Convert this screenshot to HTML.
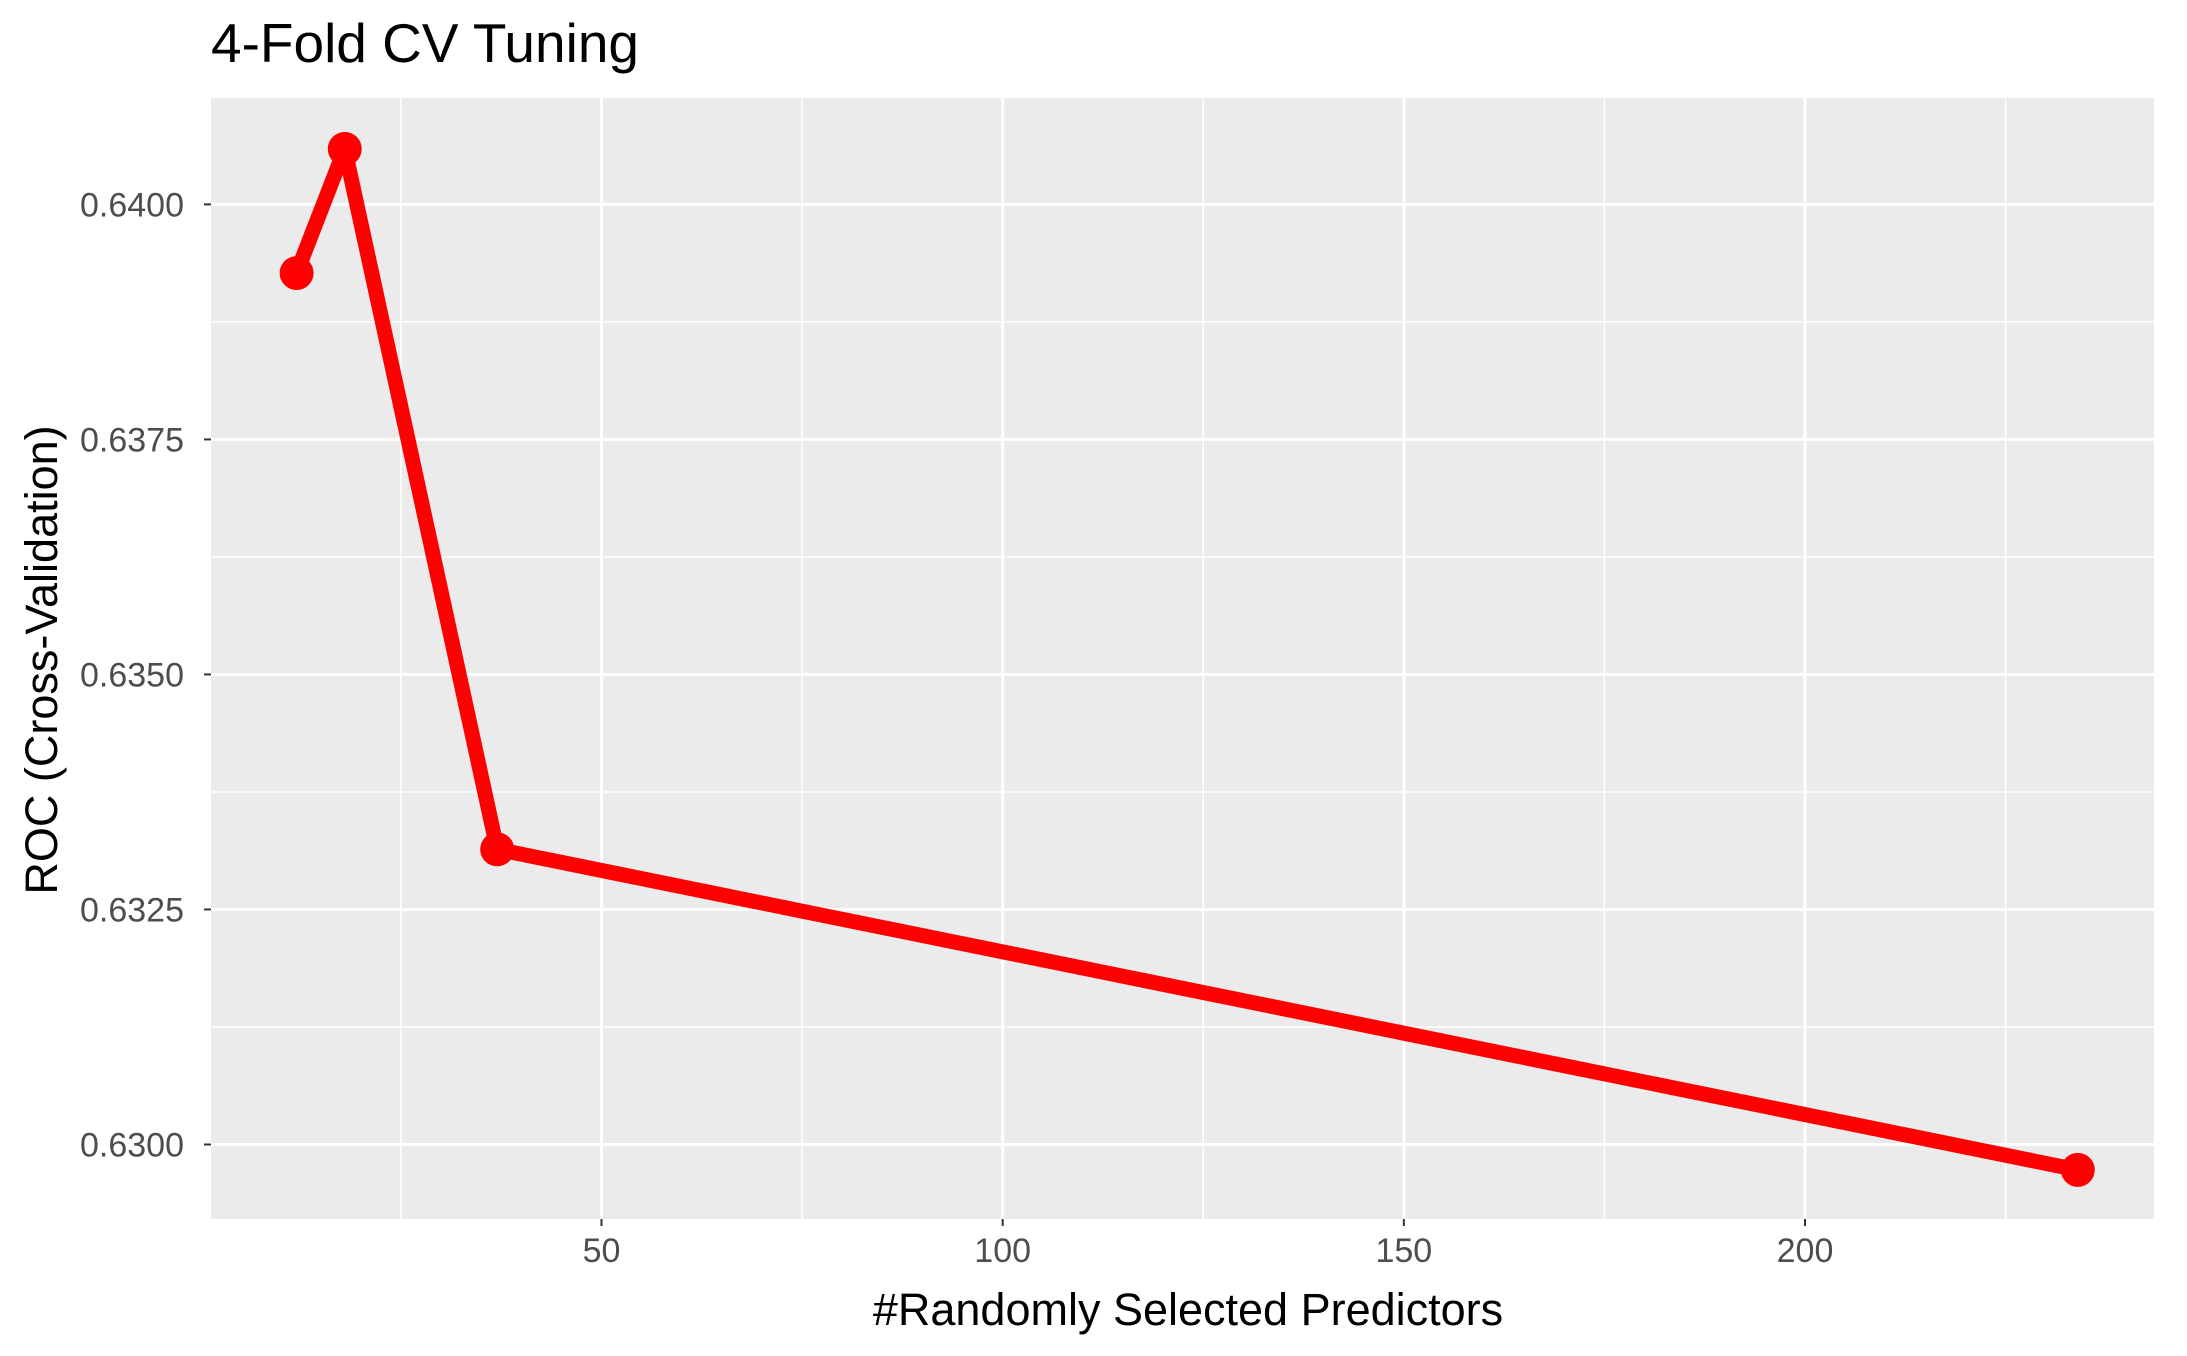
<!DOCTYPE html>
<html><head><meta charset="utf-8"><style>
html,body{margin:0;padding:0;background:#fff;}
svg text{font-family:"Liberation Sans",sans-serif;}
</style></head><body>
<svg id="chart" width="2187" height="1351" xmlns="http://www.w3.org/2000/svg">
<rect width="2187" height="1351" fill="#fff"/>
<text x="211" y="62" font-size="55" fill="#000">4-Fold CV Tuning</text>
<rect x="211" y="98" width="1943" height="1121" fill="#ebebeb"/>
<g id="grid"></g>
<g id="axes"></g>
<g id="marks"></g>
<text x="1188" y="1325" font-size="45" text-anchor="middle" fill="#000">#Randomly Selected Predictors</text>
<text transform="translate(57,660) rotate(-90)" font-size="45" text-anchor="middle" fill="#000">ROC (Cross-Validation)</text>
</svg>
<script>
const xValues = [12, 18, 37, 234];
const yValues = [0.63927, 0.64059, 0.63314, 0.62973];
const xTicks = [50, 100, 150, 200];
const xMinor = [25, 75, 125, 175, 225];
const yTicks = [0.6300, 0.6325, 0.6350, 0.6375, 0.6400];
const yTickLabels = ["0.6300", "0.6325", "0.6350", "0.6375", "0.6400"];
const yMinor = [0.63125, 0.63375, 0.63625, 0.63875];

const NS = "http://www.w3.org/2000/svg";
const px0 = 211, px1 = 2154, py0 = 98, py1 = 1219;
function sx(v){ return 601.5 + (v - 50) * (1805 - 601.5) / 150; }
function sy(v){ return 1144.5 - (v - 0.63) * (1144.5 - 204.4) / 0.01; }
function mk(tag, attrs, parent){ const e = document.createElementNS(NS, tag); for (const k in attrs) e.setAttribute(k, attrs[k]); parent.appendChild(e); return e; }
const grid = document.getElementById('grid'), axes = document.getElementById('axes'), marks = document.getElementById('marks');

xMinor.forEach(v => { const l = mk('line', {x1:sx(v), x2:sx(v), y1:py0, y2:py1, stroke:'#fff', 'stroke-width':1.5}, grid);
  
   });
yMinor.forEach(v => { const l = mk('line', {x1:px0, x2:px1, y1:sy(v), y2:sy(v), stroke:'#fff', 'stroke-width':1.5}, grid);
  
   });
xTicks.forEach(v => {
  const l = mk('line', {x1:sx(v), x2:sx(v), y1:py0, y2:py1, stroke:'#fff', 'stroke-width':3}, grid);
  
  
  const t = mk('line', {x1:sx(v), x2:sx(v), y1:py1, y2:py1+7, stroke:'#333', 'stroke-width':2}, axes);
  
  
  const tx = mk('text', {x:sx(v), y:py1+43, 'font-size':34, fill:'#4d4d4d', 'text-anchor':'middle'}, axes);
  tx.textContent = v;
  
  
});
yTicks.forEach((v, i) => {
  const l = mk('line', {x1:px0, x2:px1, y1:sy(v), y2:sy(v), stroke:'#fff', 'stroke-width':3}, grid);
  
  
  const t = mk('line', {x1:px0-7, x2:px0, y1:sy(v), y2:sy(v), stroke:'#333', 'stroke-width':2}, axes);
  
  
  const tx = mk('text', {x:px0-27, y:sy(v)+12, 'font-size':34, fill:'#4d4d4d', 'text-anchor':'end'}, axes);
  tx.textContent = yTickLabels[i];
  
  
});
const pts = xValues.map((x, i) => sx(x) + ',' + sy(yValues[i])).join(' ');
const line = mk('polyline', {points:pts, fill:'none', stroke:'#ff0000', 'stroke-width':15, 'stroke-linejoin':'round'}, marks);


xValues.forEach((x, i) => {
  const c = mk('circle', {cx:sx(x), cy:sy(yValues[i]), r:17, fill:'#ff0000'}, marks);
  
  
});
</script>
</body></html>
